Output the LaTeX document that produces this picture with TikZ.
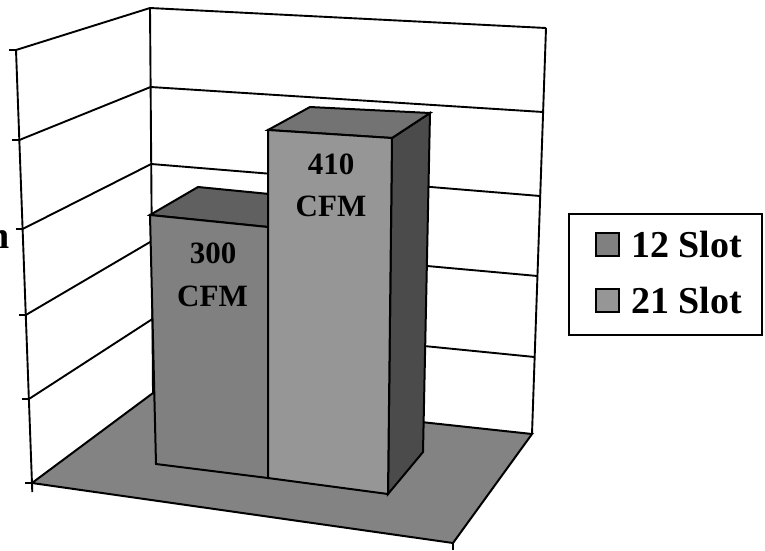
\documentclass[tikz,border=0pt]{standalone}
\usepackage{fontspec}
\setmainfont{Liberation Serif}
\definecolor{floorgray}{RGB}{131,131,131}
\definecolor{barAfront}{RGB}{128,128,128}
\definecolor{barAtop}{RGB}{96,96,96}
\definecolor{barBfront}{RGB}{150,150,150}
\definecolor{barBtop}{RGB}{115,115,115}
\definecolor{barBside}{RGB}{75,75,75}
\tikzset{
  gridline/.style={draw=black, line width=1.9pt},
  face/.style={draw=black, line width=2pt, line join=miter},
  barlabel/.style={anchor=base, font=\bfseries\fontsize{31}{31}\selectfont, inner sep=0pt},
  legendtext/.style={anchor=base west, font=\bfseries\fontsize{38}{38}\selectfont, inner sep=0pt},
  legendkey/.style={draw=black, line width=1.2pt},
}
\begin{document}
\begin{tikzpicture}[x=1pt,y=-1pt]
\useasboundingbox (0,0) rectangle (765,550);
% named corners
\coordinate (LT) at (16,50);
\coordinate (LB) at (32,483);
\coordinate (LBt) at (25,483);
\coordinate (LBx) at (32.3,492);
\coordinate (BLT) at (150,8);
\coordinate (BLB) at (153,393);
\coordinate (BRT) at (546,28);
\coordinate (BRB) at (532,434);
\coordinate (FR) at (453,543);
\coordinate (FRx) at (453,550);
% back wall grid
\foreach \yl/\yr in {8/28, 87/112, 164/196, 241/276, 319/357}{
  \path[gridline] ({150+3*(\yl-8)/385},\yl) -- ({546-14*(\yr-28)/406},\yr);
}
\draw[gridline] (BLT) -- (BLB);
\draw[gridline] (BRT) -- (BRB);
% left wall grid and ticks
\foreach \yl/\yb in {50/8, 140/87, 229/164, 315/241, 399/319}{
  \path[gridline] ({16+16*(\yl-50)/433},\yl) -- ({150+3*(\yb-8)/385},\yb);
  \path[gridline] ({16+16*(\yl-50)/433-7},\yl) -- ({16+16*(\yl-50)/433},\yl);
}
\draw[gridline] (LT) -- (LBx);
\draw[gridline] (LBt) -- (LB);
% floor
\draw[face, fill=floorgray] (BLB) -- (BRB) -- (FR) -- (LB) -- cycle;
\draw[gridline] (FR) -- (FRx);
% bar 1 (12 Slot)
\draw[face, fill=barAtop] (150,215) -- (198,187) -- (300,197) -- (268,227) -- cycle;
\draw[face, fill=barAfront] (150,215) -- (268,227) -- (268,478) -- (156,464) -- cycle;
% bar 2 (21 Slot)
\draw[face, fill=barBside] (392,138) -- (430,113) -- (423,452) -- (388,494) -- cycle;
\draw[face, fill=barBtop] (268,130) -- (310,107) -- (430,113) -- (392,138) -- cycle;
\draw[face, fill=barBfront] (268,130) -- (392,138) -- (388,494) -- (268,478) -- cycle;
% bar labels
\node[barlabel] (l1a) at (213,263) {300};
\node[barlabel] (l1b) at (212.5,306) {CFM};
\node[barlabel] (l2a) at (331,174) {410};
\node[barlabel] (l2b) at (331,216) {CFM};
% cut-off axis title (cut off at the left edge, as in the reference)
\node[anchor=base east, font=\bfseries\fontsize{38}{38}\selectfont, inner sep=0pt] (ytitle) at (9.5,248) {n};
% legend
\draw[line width=2pt] (569,214) rectangle (762,335);
\draw[legendkey, fill=barAfront] (596,233) rectangle (619,256);
\draw[legendkey, fill=barBfront] (596,289) rectangle (619,312);
\node[legendtext] (k1) at (631,257) {12 Slot};
\node[legendtext] (k2) at (631,313) {21 Slot};
\end{tikzpicture}
\end{document}
